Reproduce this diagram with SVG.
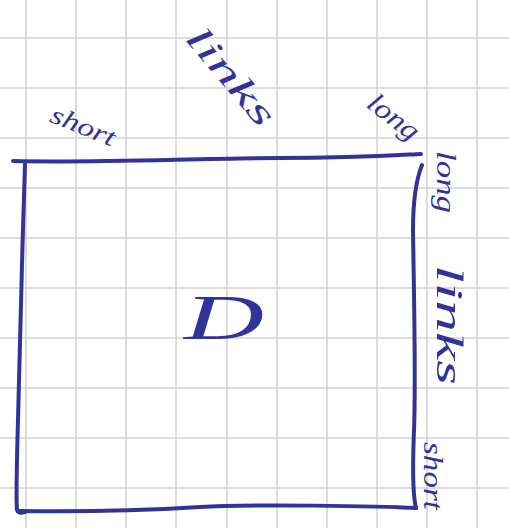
<svg xmlns="http://www.w3.org/2000/svg" width="509" height="528" viewBox="0 0 509 528">
<style>
.grid line{stroke:#d3d3d3;stroke-width:1.6}
.ink{fill:none;stroke:#30349a;stroke-width:4;stroke-linecap:round;stroke-linejoin:round}
.hw{font-family:"Liberation Serif","DejaVu Serif",serif;font-style:italic;fill:#30349a;text-anchor:middle}
</style>
<rect width="509" height="528" fill="#ffffff"/>
<g class="grid" id="grid">
<line x1="26" y1="0" x2="26" y2="528"/><line x1="76" y1="0" x2="76" y2="528"/><line x1="126" y1="0" x2="126" y2="528"/><line x1="176" y1="0" x2="176" y2="528"/><line x1="227" y1="0" x2="227" y2="528"/><line x1="277" y1="0" x2="277" y2="528"/><line x1="327" y1="0" x2="327" y2="528"/><line x1="377" y1="0" x2="377" y2="528"/><line x1="427" y1="0" x2="427" y2="528"/><line x1="477" y1="0" x2="477" y2="528"/>
<line x1="0" y1="38" x2="509" y2="38"/><line x1="0" y1="88" x2="509" y2="88"/><line x1="0" y1="138" x2="509" y2="138"/><line x1="0" y1="188" x2="509" y2="188"/><line x1="0" y1="238" x2="509" y2="238"/><line x1="0" y1="288" x2="509" y2="288"/><line x1="0" y1="338" x2="509" y2="338"/><line x1="0" y1="388" x2="509" y2="388"/><line x1="0" y1="438" x2="509" y2="438"/><line x1="0" y1="488" x2="509" y2="488"/>
</g>
<g id="square">
<path class="ink" d="M13,161 C100,163 200,158 280,158 S400,155 421,154"/>
<path class="ink" d="M25,164 C22,250 20,350 18,420 S16,500 17,510 Q18,514 25,512"/>
<path class="ink" d="M18,511 C80,512 150,510 200,507 S380,506 416,508"/>
<path class="ink" d="M422,165 C416,180 413,200 413,230 C414,300 416,380 414,430 S414,500 416,508"/>
</g>
<g id="labels">
<text class="hw" font-size="26" textLength="68" lengthAdjust="spacingAndGlyphs" transform="translate(80,134) rotate(22)">short</text>
<text class="hw" font-size="36" textLength="118" lengthAdjust="spacingAndGlyphs" transform="translate(222,84) rotate(50)">links</text>
<text class="hw" font-size="28" textLength="58" lengthAdjust="spacingAndGlyphs" transform="translate(388,124) rotate(38)">long</text>
<text class="hw" font-size="28" textLength="62" lengthAdjust="spacingAndGlyphs" transform="translate(437,182) rotate(90)">long</text>
<text class="hw" font-size="38" textLength="120" lengthAdjust="spacingAndGlyphs" transform="translate(437,325) rotate(90)">links</text>
<text class="hw" font-size="28" textLength="68" lengthAdjust="spacingAndGlyphs" transform="translate(424,476) rotate(90)">short</text>
<text class="hw" font-size="64" textLength="80" lengthAdjust="spacingAndGlyphs" x="224" y="339">D</text>
</g>
</svg>
